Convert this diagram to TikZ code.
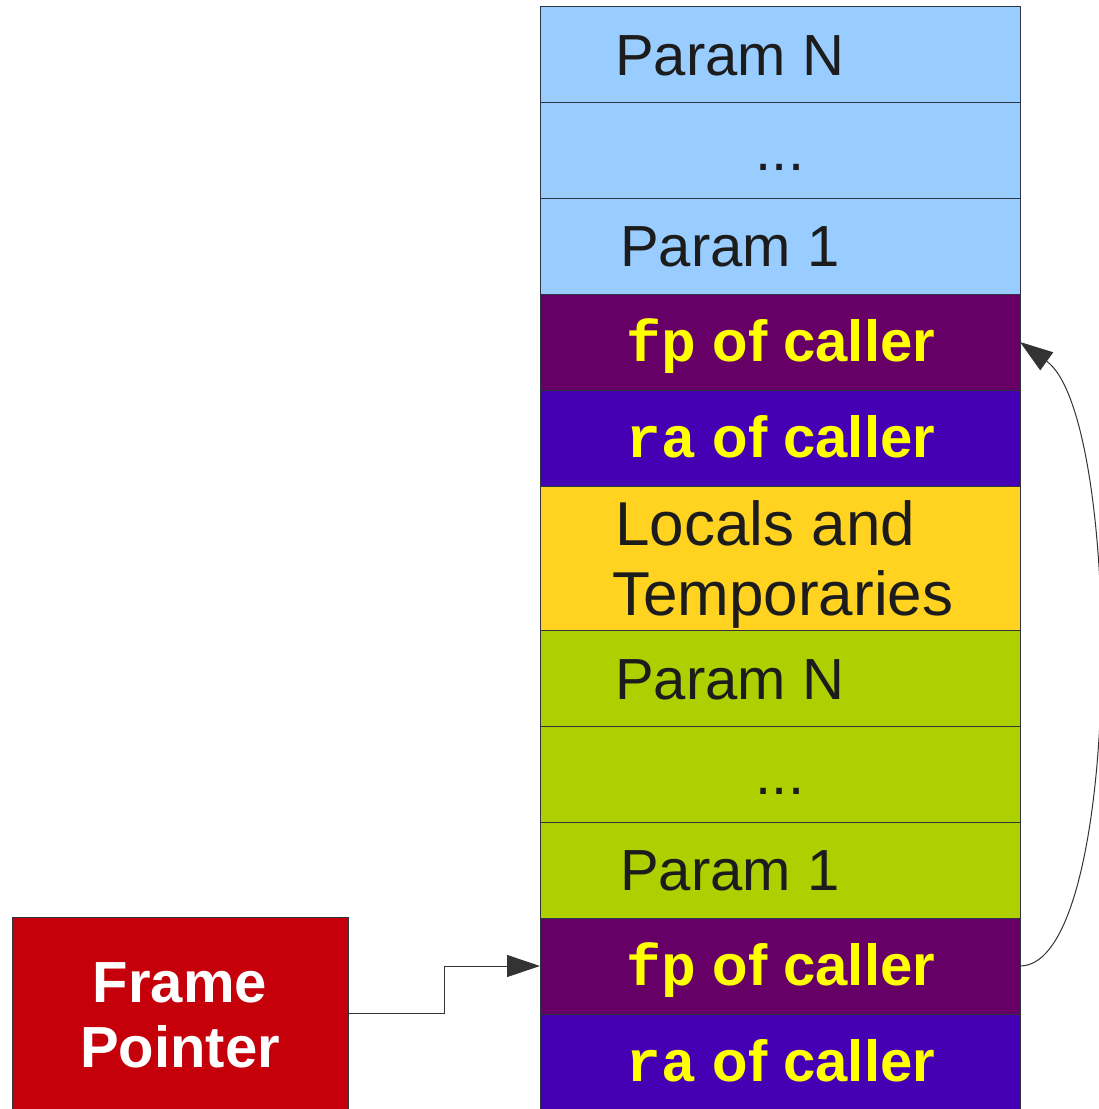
\documentclass[tikz,border=0pt]{standalone}
\usepackage{fontspec}
\setmainfont{Liberation Sans}
\setmonofont{Liberation Mono}
\usetikzlibrary{arrows.meta}
\definecolor{lblue}{HTML}{99CCFF}
\definecolor{purp}{HTML}{660066}
\definecolor{viol}{HTML}{4600B4}
\definecolor{gold}{HTML}{FFD320}
\definecolor{lgreen}{HTML}{AECF00}
\definecolor{fpred}{HTML}{C5000B}
\definecolor{yel}{HTML}{FFFF00}
\definecolor{txtdark}{HTML}{1C1C1C}
\definecolor{edge}{HTML}{2E3440}
\begin{document}
\begin{tikzpicture}[x=1pt,y=-1pt,
  cell/.style={draw=edge, line width=1pt, minimum width=480pt, minimum height=96pt, inner sep=0pt, outer sep=0pt, anchor=north west},
  dtxt/.style={text=txtdark, font=\fontsize{58}{70}\selectfont, inner sep=0pt, anchor=base west},
  ltxt/.style={text=txtdark, font=\fontsize{62}{70}\selectfont, inner sep=0pt, anchor=base west},
  ytxt/.style={text=yel, font=\fontsize{58}{70}\selectfont\bfseries, inner sep=0pt, anchor=base},
  wtxt/.style={text=white, font=\fontsize{58}{70}\selectfont\bfseries, inner sep=0pt, anchor=base},
  conn/.style={draw=black!80, line width=1pt},
  tip/.style={-{Triangle[length=33pt,width=22pt]}}]
\useasboundingbox (0,0) rectangle (1099,1109);
% stack cells
\node[cell, fill=lblue] (pn1) at (540,6) {};
\node[cell, fill=lblue] (dd1) at (540,102) {};
\node[cell, fill=lblue] (p11) at (540,198) {};
\node[cell, fill=purp] (fp1) at (540,294) {};
\node[cell, fill=viol] (ra1) at (540,390) {};
\node[cell, fill=gold, minimum height=144pt] (loc) at (540,486) {};
\node[cell, fill=lgreen] (pn2) at (540,630) {};
\node[cell, fill=lgreen] (dd2) at (540,726) {};
\node[cell, fill=lgreen] (p12) at (540,822) {};
\node[cell, fill=purp] (fp2) at (540,918) {};
\node[cell, fill=viol, minimum height=97pt] (ra2) at (540,1014) {};
% texts
\node[dtxt] (tpn1) at (615,75) {Param N};
\node[dtxt, anchor=base] (tdd1) at (780,170) {...};
\node[dtxt] (tp11) at (620,266) {Param 1};
\node[ytxt] (tfp1) at (781,361) {\texttt{fp} of caller};
\node[ytxt] (tra1) at (781,457) {\texttt{ra} of caller};
\node[ltxt] (tloc1) at (615,545) {Locals and};
\node[ltxt] (tloc2) at (612,615) {Temporaries};
\node[dtxt] (tpn2) at (615,699) {Param N};
\node[dtxt, anchor=base] (tdd2) at (780,794) {...};
\node[dtxt] (tp12) at (620,890) {Param 1};
\node[ytxt] (tfp2) at (781,985) {\texttt{fp} of caller};
\node[ytxt] (tra2) at (781,1081) {\texttt{ra} of caller};
% frame pointer box
\node[draw=edge, line width=1pt, fill=fpred, minimum width=336pt, minimum height=193pt, inner sep=0pt, outer sep=0pt, anchor=north west] (fpbox) at (12,917) {};
\node[wtxt] (tframe) at (180,1002) {Frame};
\node[wtxt] (tpointer) at (180,1067) {Pointer};
% connectors
\draw[conn, tip] (fpbox.east) -- ++(96,0) |- (fp2.west);
\draw[conn, tip] (fp2.east) .. controls +(104,0) and +(104,75) .. (fp1.east);
\end{tikzpicture}
\end{document}
